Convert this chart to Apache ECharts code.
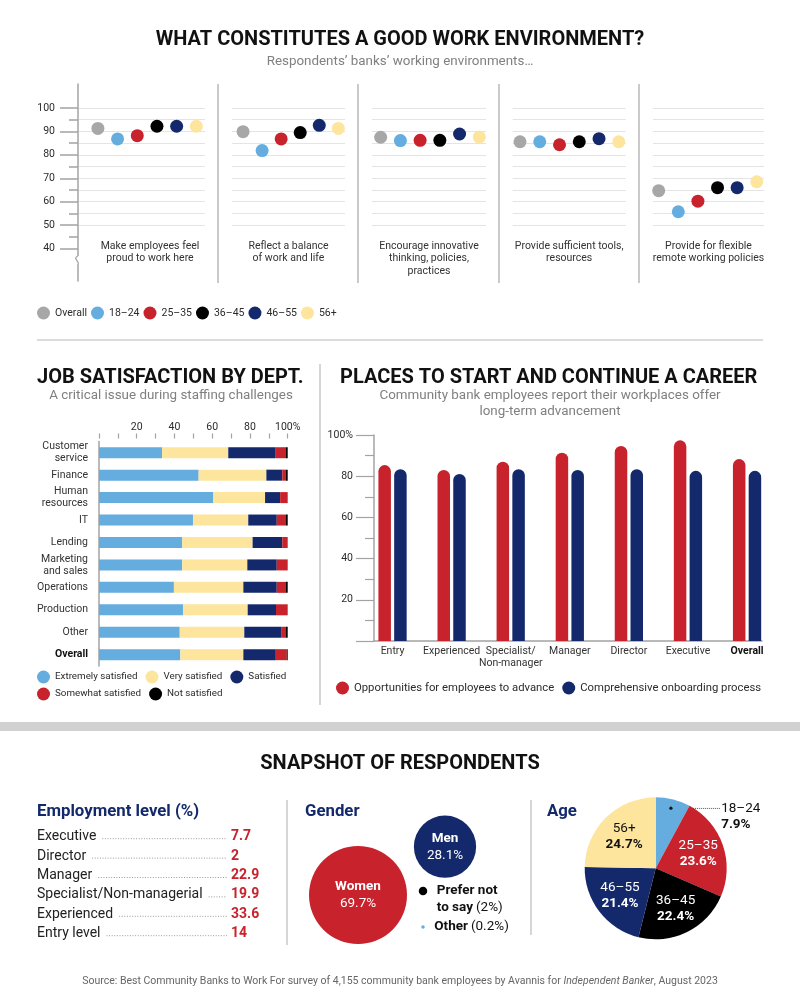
<!DOCTYPE html>
<html><head><meta charset="utf-8">
<script src="https://cdn.jsdelivr.net/npm/echarts@6/dist/echarts.min.js"></script>
<style>html,body{margin:0;padding:0;background:#fff}#c{width:800px;height:1002px}</style>
</head><body><div id="c"></div><script>
// ---------------- DATA ----------------
const envStatements = ['Make employees feel\nproud to work here', 'Reflect a balance\nof work and life', 'Encourage innovative\nthinking, policies,\npractices', 'Provide sufficient tools,\nresources', 'Provide for flexible\nremote working policies'];
const ageGroups = ['Overall', '18–24', '25–35', '36–45', '46–55', '56+'];
const envOverall = [91.3, 89.9, 87.5, 85.6, 64.7];
const env18to24 = [86.8, 81.8, 86.1, 85.6, 55.7];
const env25to35 = [88.2, 86.8, 86.2, 84.3, 60.2];
const env36to45 = [92.2, 89.5, 86.2, 85.6, 66.0];
const env46to55 = [92.2, 92.6, 88.9, 86.9, 66.0];
const env56plus = [92.2, 91.3, 87.6, 85.6, 68.5];
const envTicks = [40, 50, 60, 70, 80, 90, 100];

const departments = ['Customer\nservice', 'Finance', 'Human\nresources', 'IT', 'Lending', 'Marketing\nand sales', 'Operations', 'Production', 'Other', 'Overall'];
const satNames = ['Extremely satisfied', 'Very satisfied', 'Satisfied', 'Somewhat satisfied', 'Not satisfied'];
const extremelySat = [33.4, 52.8, 60.6, 49.8, 44.1, 44.1, 39.7, 44.5, 42.8, 43.1];
const verySat = [35.1, 35.9, 27.4, 29.3, 37.3, 34.5, 36.8, 34.3, 34.2, 33.4];
const satisfiedSat = [24.8, 8.4, 8.0, 15.1, 15.7, 15.6, 17.7, 15.0, 19.5, 17.2];
const somewhatSat = [5.8, 2.0, 4.0, 4.9, 2.9, 5.8, 4.9, 6.2, 2.6, 5.8];
const notSat = [0.9, 0.9, 0, 0.9, 0, 0, 0.9, 0, 0.9, 0.5];

const careerLevels = ['Entry', 'Experienced', 'Specialist/\nNon-manager', 'Manager', 'Director', 'Executive', 'Overall'];
const careerSeriesNames = ['Opportunities for employees to advance', 'Comprehensive onboarding process'];
const advanceOpp = [85.4, 83.0, 87.0, 91.4, 94.7, 97.4, 88.3];
const onboarding = [83.4, 81.1, 83.4, 83.0, 83.4, 82.6, 82.6];

const employmentLevels = ['Executive', 'Director', 'Manager', 'Specialist/Non-managerial', 'Experienced', 'Entry level'];
const employmentPct = [7.7, 2, 22.9, 19.9, 33.6, 14];

const genderNames = ['Women', 'Men', 'Prefer not to say', 'Other'];
const genderPct = [69.7, 28.1, 2, 0.2];

const ageNames = ['18–24', '25–35', '36–45', '46–55', '56+'];
const agePct = [7.9, 23.6, 22.4, 21.4, 24.7];

// ---------------- STYLE / LAYOUT ----------------
const FONT = 'Roboto';
const TXT = '#2b2b2b';
const C = {gray: '#a7a7a7', lblue: '#65acdf', red: '#c8222c', black: '#000000', navy: '#13296b', cream: '#fde59e'};
const ageColors = [C.gray, C.lblue, C.red, C.black, C.navy, C.cream];
const satColors = [C.lblue, C.cream, C.navy, C.red, C.black];
const pieColors = [C.lblue, C.red, C.black, C.navy, C.cream];
const panelLayout = [
  {left: 79, width: 126, min: -0.96, max: 5.44, pad: 16},
  {left: 232, width: 113, min: -0.58, max: 5.35, pad: 0},
  {left: 372, width: 114, min: -0.44, max: 5.34, pad: 0},
  {left: 512.7, width: 113, min: -0.37, max: 5.35, pad: 0},
  {left: 653, width: 111, min: -0.29, max: 5.37, pad: 0}
];
const genderLayout = [[358, 895], [445, 846.7], [423, 891], [423, 927]];
const pieCenter = [655.7, 868.3];

const grids = [], xAxes = [], yAxes = [], series = [], graphics = [];
function addGrid(g) { g.outerBoundsMode = 'none'; g.containLabel = false; grids.push(g); return grids.length - 1; }
const hiddenAxis = (gi, extra) => Object.assign({gridIndex: gi, type: 'value', show: false, splitLine: {show: false}}, extra || {});
const gl = '#a3a3a3';

// ---------- Section 1: dot panels ----------
let gi = addGrid({left: 78, top: 84, width: 1, height: 197});
xAxes.push(hiddenAxis(gi));
yAxes.push({gridIndex: gi, type: 'value', min: 0, max: 1, axisLine: {show: true, lineStyle: {color: gl, width: 1.5}}, axisTick: {show: false}, axisLabel: {show: false}, splitLine: {show: false}});

gi = addGrid({left: 78, top: 108, width: 1, height: 140.5});
xAxes.push(hiddenAxis(gi));
yAxes.push({gridIndex: gi, type: 'value', min: envTicks[0], max: envTicks[envTicks.length - 1], interval: 10,
  axisLine: {show: false}, axisTick: {show: true, length: 18, lineStyle: {color: gl, width: 1.5}},
  minorTick: {show: true, splitNumber: 2, length: 9, lineStyle: {color: gl, width: 1.5}},
  axisLabel: {margin: 23, fontSize: 10.5, color: TXT, fontFamily: FONT}, splitLine: {show: false}, minorSplitLine: {show: false}});

const envValues = [envOverall, env18to24, env25to35, env36to45, env46to55, env56plus];
const panelAxisIdx = [];
panelLayout.forEach((p, i) => {
  const g = addGrid({left: p.left, top: 108, width: p.width, height: 117.1});
  panelAxisIdx.push(xAxes.length);
  xAxes.push({gridIndex: g, type: 'value', min: p.min, max: p.max, axisLine: {show: false}, axisTick: {show: false}, axisLabel: {show: false}, splitLine: {show: false},
    name: envStatements[i], nameLocation: 'middle', nameGap: 14.5,
    nameTextStyle: {fontSize: 10.5, lineHeight: 12.6, color: '#333', fontFamily: FONT, padding: [0, 0, 0, p.pad]}});
  yAxes.push({gridIndex: g, type: 'value', min: 50, max: 100, interval: 5, axisLine: {show: false}, axisTick: {show: false}, axisLabel: {show: false},
    splitLine: {show: true, lineStyle: {color: '#e4e4e4', width: 1}}});
});
ageGroups.forEach((name, a) => {
  envStatements.forEach((s, p) => {
    series.push({type: 'scatter', name: name, xAxisIndex: panelAxisIdx[p], yAxisIndex: panelAxisIdx[p],
      data: [[a, envValues[a][p]]], symbolSize: 13, itemStyle: {color: ageColors[a], opacity: 1}, z: 3});
  });
});

// ---------- Section 2a: job satisfaction ----------
gi = addGrid({left: 99, top: 441.5, width: 188.7, height: 224.4});
const deptIdx = xAxes.length;
xAxes.push({gridIndex: gi, type: 'value', position: 'top', min: 0, max: 100, interval: 10, offset: 3,
  axisLine: {show: false}, axisTick: {show: true, length: 5, lineStyle: {color: gl, width: 1.2}},
  axisLabel: {margin: 6, fontSize: 10.5, color: TXT, fontFamily: FONT, formatter: v => (v === 0 || v % 20 !== 0) ? '' : (v === 100 ? '100%' : String(v))},
  splitLine: {show: false}});
yAxes.push({gridIndex: gi, type: 'category', inverse: true, data: departments,
  axisLine: {show: true, lineStyle: {color: gl, width: 1.5}}, axisTick: {show: false},
  axisLabel: {margin: 11, fontSize: 10.5, lineHeight: 12, color: '#333', fontFamily: FONT,
    formatter: v => v === 'Overall' ? '{b|Overall}' : v,
    rich: {b: {fontWeight: 'bold', fontSize: 10.5, color: '#111', fontFamily: FONT}}}});
const satValues = [extremelySat, verySat, satisfiedSat, somewhatSat, notSat];
satNames.forEach((n, i) => {
  series.push({type: 'bar', name: n, stack: 'dept', xAxisIndex: deptIdx, yAxisIndex: deptIdx, data: satValues[i], barWidth: 11, itemStyle: {color: satColors[i]}});
});

// ---------- Section 2b: career ----------
gi = addGrid({left: 374, right: 38, top: 435, bottom: 361});
xAxes.push({gridIndex: gi, type: 'value', min: 0, max: 1, axisLine: {show: true, lineStyle: {color: gl, width: 1.5}}, axisTick: {show: false}, axisLabel: {show: false}, splitLine: {show: false}});
yAxes.push({gridIndex: gi, type: 'value', min: 0, max: 100, interval: 20,
  axisLine: {show: true, lineStyle: {color: gl, width: 1.5}},
  axisTick: {show: true, length: 18, lineStyle: {color: gl, width: 1.2}},
  minorTick: {show: true, splitNumber: 2, length: 9, lineStyle: {color: gl, width: 1.2}},
  axisLabel: {margin: 21, fontSize: 10.5, color: TXT, fontFamily: FONT, formatter: v => v === 0 ? '' : (v === 100 ? '100%' : String(v))},
  splitLine: {show: false}, minorSplitLine: {show: false}});
gi = addGrid({left: 363, right: 23.4, top: 435, bottom: 361});
const carIdx = xAxes.length;
xAxes.push({gridIndex: gi, type: 'category', data: careerLevels, axisLine: {show: false}, axisTick: {show: false},
  axisLabel: {margin: 4, fontSize: 10.5, lineHeight: 12.5, color: '#333', fontFamily: FONT, interval: 0,
    formatter: v => v === 'Overall' ? '{b|Overall}' : v,
    rich: {b: {fontWeight: 'bold', fontSize: 10.5, color: '#111', fontFamily: FONT}}}});
yAxes.push(hiddenAxis(gi, {min: 0, max: 100}));
[advanceOpp, onboarding].forEach((d, i) => {
  series.push({type: 'bar', name: careerSeriesNames[i], xAxisIndex: carIdx, yAxisIndex: carIdx, data: d, barWidth: 12.5, barGap: '26%',
    itemStyle: {color: i === 0 ? C.red : C.navy, borderRadius: [6.25, 6.25, 0, 0]}});
});

// ---------- Section 3: gender bubbles ----------
gi = addGrid({left: 0, top: 0, width: 800, height: 1002});
const genIdx = xAxes.length;
xAxes.push(hiddenAxis(gi, {min: 0, max: 800}));
yAxes.push(hiddenAxis(gi, {min: 0, max: 1002, inverse: true}));
const bubbleK = 98 / Math.sqrt(genderPct[0]);
const genRich = {
  w: {fontWeight: 'bold', fontSize: 13.5, color: '#fff', lineHeight: 17, fontFamily: FONT},
  wv: {fontSize: 13.5, color: '#fff', lineHeight: 17, fontFamily: FONT},
  k: {fontWeight: 'bold', fontSize: 13.5, color: '#111', lineHeight: 17, fontFamily: FONT},
  kv: {fontSize: 13.5, color: '#111', lineHeight: 17, fontFamily: FONT}
};
series.push({type: 'scatter', name: 'Gender', xAxisIndex: genIdx, yAxisIndex: genIdx, z: 3,
  data: genderNames.slice(0, 2).map((n, i) => ({name: n, value: [genderLayout[i][0], genderLayout[i][1], genderPct[i]],
    itemStyle: {color: i === 0 ? C.red : C.navy, opacity: 1}})),
  symbolSize: d => bubbleK * Math.sqrt(d[2]),
  label: {show: true, position: 'inside', formatter: p => `{w|${p.name}}\n{wv|${p.value[2]}%}`, rich: genRich}});
series.push({type: 'scatter', name: 'GenderSmall', xAxisIndex: genIdx, yAxisIndex: genIdx, z: 3,
  data: genderNames.slice(2).map((n, j) => ({name: n, value: [genderLayout[j + 2][0], genderLayout[j + 2][1], genderPct[j + 2]],
    symbolSize: j === 0 ? 8.5 : 3.5, itemStyle: {color: j === 0 ? C.black : C.lblue, opacity: 1},
    label: {show: true, position: 'right', distance: 9.5, offset: j === 0 ? [0, 8.5] : [0, 0],
      formatter: j === 0 ? `{k|Prefer not}\n{k|to say} {kv|(${genderPct[2]}%)}` : `{k|Other} {kv|(${genderPct[3]}%)}`, rich: genRich}}))});

// ---------- Section 3: age pie ----------
const pieRich = {
  n: {fontSize: 13.5, lineHeight: 16, fontFamily: FONT},
  p: {fontSize: 13.5, fontWeight: 'bold', lineHeight: 16, fontFamily: FONT}
};
series.push({type: 'pie', name: 'Age', center: pieCenter, radius: 71, startAngle: 90, clockwise: true, avoidLabelOverlap: false, silent: true,
  data: ageNames.map((n, i) => ({name: n, value: agePct[i], itemStyle: {color: pieColors[i]},
    label: {show: i === 0}, labelLine: {show: i === 0}})),
  label: {position: 'outside', distanceToLabelLine: 2, color: '#111', align: 'center',
    formatter: p => `{n|${p.name}}\n{p|${p.value}%}`, rich: {n: {fontSize: 13.5, lineHeight: 16, fontFamily: FONT, color: '#111'}, p: {fontSize: 13.5, fontWeight: 'bold', lineHeight: 16, fontFamily: FONT, color: '#111'}}},
  labelLine: {length: 0, length2: 47, lineStyle: {color: '#555', width: 1, type: 'dotted'}},
  labelLayout: function (pr) {
    if (pr.dataIndex !== 0 || !pr.labelLinePoints) return {};
    const pts = pr.labelLinePoints;
    const sx = pieCenter[0] + (pts[0][0] - pieCenter[0]) * 0.87;
    const sy = pieCenter[1] + (pts[0][1] - pieCenter[1]) * 0.87;
    const endX = pts[pts.length - 1][0];
    return {labelLinePoints: [[sx, sy], [sx, sy], [endX, sy]], dy: sy - pts[0][1] + 8, dx: -1};
  }
});
series.push({type: 'pie', name: 'AgeLabels', center: pieCenter, radius: 84, startAngle: 90, clockwise: true, avoidLabelOverlap: false, silent: true, z: 4,
  data: ageNames.map((n, i) => ({name: n, value: agePct[i], itemStyle: {color: 'rgba(0,0,0,0)'},
    label: {show: i > 0, color: i === 4 ? '#111' : '#fff'}})),
  label: {position: 'inside', formatter: p => `{n|${p.name}}\n{p|${p.value}%}`, rich: pieRich},
  labelLine: {show: false}});

// ---------- Legends ----------
const legBase = {icon: 'circle', itemWidth: 13, itemHeight: 13, orient: 'horizontal', selectedMode: false, padding: 0,
  textStyle: {fontSize: 10.5, color: TXT, fontFamily: FONT}};
const legends = [
  Object.assign({}, legBase, {data: ageGroups, left: 37, top: 306.5, itemGap: 4}),
  Object.assign({}, legBase, {data: satNames.slice(0, 3), left: 37, top: 670.5, itemGap: 8, textStyle: {fontSize: 9.8, color: TXT, fontFamily: FONT}}),
  Object.assign({}, legBase, {data: satNames.slice(3), left: 37, top: 687.5, itemGap: 8, textStyle: {fontSize: 9.8, color: TXT, fontFamily: FONT}}),
  Object.assign({}, legBase, {data: careerSeriesNames, left: 336, top: 681.5, itemGap: 8, textStyle: {fontSize: 11.3, color: TXT, fontFamily: FONT}})
];

// ---------- Text & decorations ----------
function txt(x, y, text, o) {
  graphics.push({type: 'text', x: x, y: y, z: 100, silent: true,
    style: Object.assign({text: text, fill: TXT, fontFamily: FONT, fontSize: 12, align: 'left', verticalAlign: 'middle'}, o || {})});
}
function line(x1, y1, x2, y2, stroke, w, dash) {
  graphics.push({type: 'line', z: 100, silent: true, shape: {x1, y1, x2, y2}, style: {stroke: stroke, lineWidth: w || 1, lineDash: dash || null}});
}
const titleStyle = {fontSize: 20, fontWeight: 'bold', fill: '#111'};
const subStyle = {fontSize: 13.4, fill: '#808080'};
txt(400, 40, 'WHAT CONSTITUTES A GOOD WORK ENVIRONMENT?', Object.assign({align: 'center'}, titleStyle));
txt(400, 62, 'Respondents’ banks’ working environments…', Object.assign({align: 'center'}, subStyle));
txt(37, 378, 'JOB SATISFACTION BY DEPT.', titleStyle);
txt(171, 396, 'A critical issue during staffing challenges', Object.assign({align: 'center'}, subStyle));
txt(340, 378, 'PLACES TO START AND CONTINUE A CAREER', titleStyle);
txt(550, 404, 'Community bank employees report their workplaces offer\nlong-term advancement', Object.assign({align: 'center', lineHeight: 16}, subStyle));
txt(400, 764, 'SNAPSHOT OF RESPONDENTS', Object.assign({align: 'center'}, titleStyle));
const subHead = {fontSize: 16.8, fontWeight: 'bold', fill: C.navy};
txt(37, 812, 'Employment level (%)', subHead);
txt(305, 812, 'Gender', subHead);
txt(547, 812, 'Age', subHead);
txt(400, 981, '{n|Source: Best Community Banks to Work For survey of 4,155 community bank employees by Avannis for }{i|Independent Banker}{n|, August 2023}',
  {align: 'center', rich: {n: {fontSize: 10.5, fill: '#666', fontFamily: FONT}, i: {fontSize: 10.5, fill: '#666', fontStyle: 'italic', fontFamily: FONT}}});

// panel separators
[218, 358, 499, 639].forEach(x => line(x, 84, x, 283, '#b8b8b8', 1.5));
// axis break
graphics.push({type: 'rect', z: 101, silent: true, shape: {x: 75, y: 256, width: 6, height: 8}, style: {fill: '#fff'}});
graphics.push({type: 'bezierCurve', z: 102, silent: true, shape: {x1: 78, y1: 256, x2: 78, y2: 264, cpx1: 72, cpy1: 258, cpx2: 80, cpy2: 262}, style: {stroke: gl, lineWidth: 1.3, fill: null}});
line(37, 340, 763, 340, '#b8b8b8', 1);
line(320, 364, 320, 705, '#c8c8c8', 1.5);
graphics.push({type: 'rect', z: 100, silent: true, shape: {x: 0, y: 722, width: 800, height: 9}, style: {fill: '#d1d1d1'}});
line(287, 800, 287, 945, '#c8c8c8', 1.5);
line(531, 800, 531, 935, '#c8c8c8', 1.5);

// employment list
const EMP_FS = 14;
const mctx = document.createElement('canvas').getContext('2d');
mctx.font = EMP_FS + 'px Roboto';
employmentLevels.forEach((lab, i) => {
  const y = 836.7 + i * 19.4;
  txt(37, y, lab, {fontSize: EMP_FS, fill: '#222'});
  txt(231, y, String(employmentPct[i]), {fontSize: EMP_FS, fontWeight: 'bold', fill: C.red});
  const w = mctx.measureText(lab).width;
  line(37 + w + 6, y + 2, 227, y + 2, '#9a9a9a', 1, [1, 1.6]);
});
// 18–24 leader start dot
const a0 = (agePct[0] / 2) / 100 * 2 * Math.PI;
graphics.push({type: 'circle', z: 100, silent: true, shape: {cx: pieCenter[0] + Math.sin(a0) * 62, cy: pieCenter[1] - Math.cos(a0) * 62, r: 1.6}, style: {fill: '#111'}});

const chart = echarts.init(document.getElementById('c'), null, {renderer: 'canvas'});
chart.setOption({
  animation: false, backgroundColor: '#fff', textStyle: {fontFamily: FONT},
  grid: grids, xAxis: xAxes, yAxis: yAxes, legend: legends, series: series, graphic: graphics
});
</script></body></html>
